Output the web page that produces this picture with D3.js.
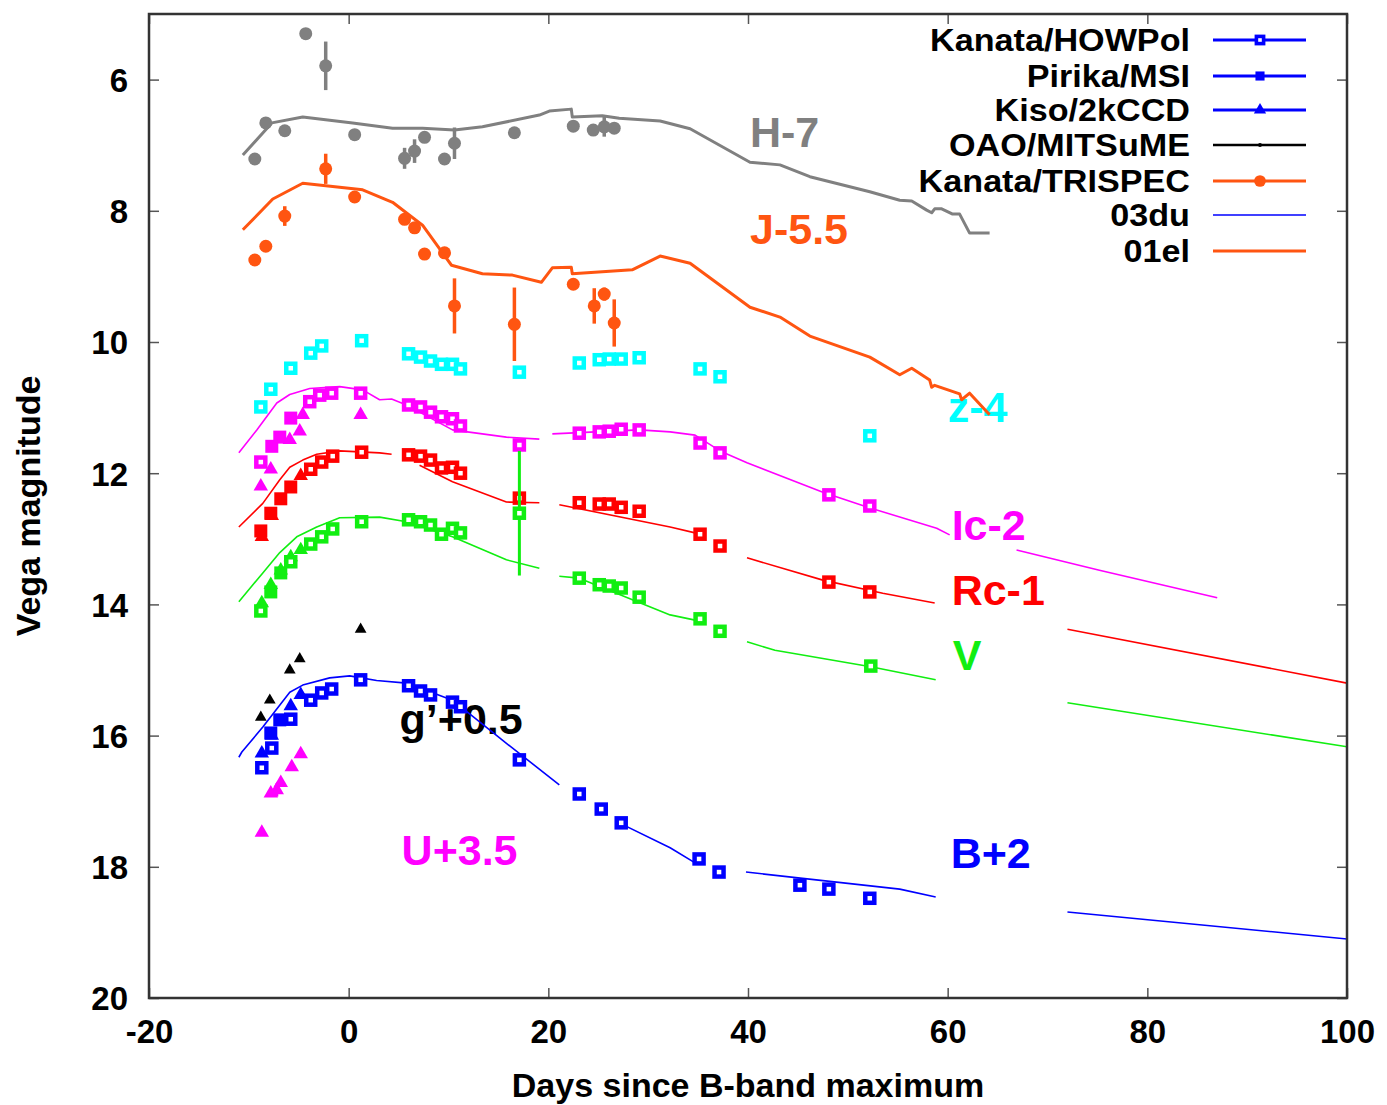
<!DOCTYPE html>
<html><head><meta charset="utf-8">
<script src="https://cdn.jsdelivr.net/npm/d3@7"></script>
<style>
body{margin:0;background:#fff}
svg text{font-family:"Liberation Sans",Arial,Helvetica,sans-serif;font-weight:bold}
</style>
</head><body>
<svg id="c" width="1387" height="1105"></svg>
<script>
// ---------- axes ----------
const xTicks = [-20, 0, 20, 40, 60, 80, 100];
const yTicks = [6, 8, 10, 12, 14, 16, 18, 20];
const xLabel = "Days since B-band maximum";
const yLabel = "Vega magnitude";

// ---------- observed points [day, mag(+offset), err] ----------
const H_trispec = [[-9.4,7.21],[-8.3,6.66],[-6.4,6.78],[-4.3,5.30],[-2.3,5.79,0.37],[0.6,6.84],[5.6,7.20,0.16],[6.6,7.09,0.18],[7.6,6.88],[9.6,7.21],[10.6,6.97,0.24],[16.6,6.81],[22.5,6.71,0.08],[24.5,6.77],[25.6,6.72,0.15],[26.6,6.74]];
const J_trispec = [[-9.4,8.75,0.09],[-8.3,8.54],[-6.4,8.08,0.15],[-2.3,7.36,0.23],[0.6,7.79],[5.6,8.13],[6.6,8.26],[7.6,8.66],[9.6,8.64],[10.6,9.45,0.42],[16.6,9.73,0.56],[22.5,9.12],[24.6,9.45,0.27],[25.6,9.27,0.10],[26.6,9.71,0.36]];
const z_howpol = [[-8.8,10.99],[-7.8,10.72],[-5.8,10.40],[-3.8,10.17],[-2.7,10.06],[1.3,9.98],[6.0,10.18],[7.2,10.23],[8.2,10.29],[9.3,10.34],[10.4,10.34],[11.2,10.41],[17.1,10.46],[23.1,10.32],[25.1,10.27],[26.1,10.26],[27.3,10.26],[29.1,10.24],[35.2,10.41],[37.2,10.53],[52.2,11.43]];
const Ic_howpol = [[-8.8,11.83],[-3.9,10.91],[-2.9,10.81],[-1.7,10.78],[1.2,10.78],[6.0,10.96],[7.2,10.99],[8.2,11.07],[9.3,11.14],[10.4,11.17],[11.2,11.28],[17.1,11.57],[23.1,11.39],[25.1,11.37],[26.1,11.36],[27.3,11.33],[29.1,11.34],[35.2,11.54],[37.2,11.69],[48.1,12.33],[52.2,12.50]];
const Ic_pirika = [[-7.7,11.59],[-6.9,11.45],[-5.8,11.16]];
const Ic_kiso = [[-8.8,12.20],[-7.8,11.94],[-5.9,11.49],[-4.9,11.36],[-4.6,11.11],[1.2,11.11]];
const Rc_howpol = [[-3.8,11.94],[-2.7,11.83],[-1.6,11.74],[1.3,11.68],[6.0,11.72],[7.2,11.74],[8.2,11.80],[9.3,11.92],[10.4,11.91],[11.2,12.00],[17.1,12.38],[23.1,12.45],[25.1,12.47],[26.1,12.47],[27.3,12.52],[29.1,12.58],[35.2,12.93],[37.2,13.11],[48.1,13.66],[52.2,13.81]];
const Rc_pirika = [[-8.8,12.88],[-7.8,12.61],[-6.8,12.39],[-5.8,12.21]];
const Rc_kiso = [[-8.7,12.97],[-7.7,12.65],[-4.8,12.04]];
const V_howpol = [[-8.8,14.10],[-5.8,13.35],[-3.8,13.08],[-2.7,12.97],[-1.6,12.85],[1.3,12.74],[6.0,12.71],[7.2,12.74],[8.2,12.79],[9.3,12.93],[10.4,12.84],[11.2,12.91],[17.1,12.61,0.95],[23.1,13.60],[25.1,13.70],[26.1,13.72],[27.3,13.75],[29.1,13.89],[35.2,14.22],[37.2,14.41],[52.3,14.94]];
const V_pirika = [[-7.8,13.81],[-6.8,13.52]];
const V_kiso = [[-8.7,13.98],[-7.8,13.70],[-6.8,13.48],[-5.8,13.28],[-4.8,13.17]];
const B_howpol = [[-8.7,16.49],[-7.7,16.19],[-5.8,15.75],[-3.8,15.46],[-2.7,15.35],[-1.7,15.29],[1.2,15.15],[6.0,15.24],[7.2,15.32],[8.2,15.38],[10.4,15.49],[11.2,15.56],[17.1,16.37],[23.1,16.89],[25.3,17.12],[27.3,17.33],[35.1,17.88],[37.1,18.08],[45.2,18.28,0.08],[48.1,18.34,0.08],[52.2,18.48]];
const B_pirika = [[-7.8,15.96],[-6.9,15.76]];
const B_kiso = [[-8.7,16.27],[-7.7,16.00],[-5.8,15.55],[-4.8,15.38]];
const g_mitsume = [[-8.8,15.72],[-7.9,15.46],[-5.9,15.00],[-4.9,14.83],[1.2,14.38]];
const U_kiso = [[-8.7,17.48],[-7.8,16.88],[-7.2,16.83,0.10],[-6.8,16.72],[-5.7,16.48],[-4.8,16.28]];

// ---------- template light curves (segments) ----------
const H_01el = [[[-10.6,7.15],[-7.7,6.66],[-4.6,6.57],[0.4,6.66],[4.4,6.74],[7.4,6.74],[10.6,6.77],[13.4,6.72],[19.1,6.54],[20.1,6.48],[22.3,6.45],[22.4,6.57],[25.4,6.55],[27.1,6.59],[31.2,6.63],[34.2,6.75],[40.2,7.26],[43.2,7.30],[46.2,7.48],[52.2,7.71],[55.2,7.84],[56.4,7.85],[57.9,7.99],[58.4,8.03],[58.7,7.97],[59.4,7.97],[60.5,8.05],[61.2,8.05],[62.2,8.34],[64.2,8.34]]];
const J_01el = [[[-10.6,8.29],[-7.6,7.82],[-4.6,7.58],[1.4,7.68],[4.4,7.87],[7.4,8.22],[10.3,8.83],[13.4,8.96],[16.4,8.98],[19.3,9.09],[20.4,8.87],[22.3,8.86],[22.4,8.96],[28.4,8.90],[31.2,8.69],[34.2,8.80],[40.2,9.47],[43.2,9.62],[46.2,9.91],[52.2,10.23],[55.2,10.50],[56.4,10.40],[58.2,10.58],[58.4,10.69],[58.7,10.66],[61.2,10.79],[61.4,10.88],[62.2,10.78],[64.2,11.11]]];
const Ic_03du = [
  [[-11.0,11.69],[-9.2,11.34],[-7.2,10.93],[-5.9,10.80],[-3.9,10.71],[-0.9,10.68],[1.4,10.73],[3.1,10.88],[4.3,10.87],[5.8,10.96],[10.4,11.34],[15.8,11.45],[19.1,11.48]],
  [[20.4,11.40],[29.1,11.34],[32.2,11.37],[34.7,11.42],[37.2,11.66],[39.9,11.84],[47.5,12.29],[52.0,12.52],[58.9,12.84],[60.2,12.94]],
  [[66.9,13.17],[75.2,13.48],[87.0,13.90]]];
const Rc_03du = [
  [[-11.0,12.82],[-8.6,12.46],[-6.9,12.10],[-5.9,11.91],[-4.6,11.80],[-3.2,11.71],[-0.9,11.66],[3.1,11.69],[4.3,11.71]],
  [[7.1,11.88],[10.4,12.13],[15.8,12.44],[19.1,12.45]],
  [[21.1,12.48],[32.2,12.82],[34.7,12.91]],
  [[39.9,13.29],[47.5,13.63],[53.5,13.83],[58.7,13.98]],
  [[72.0,14.38],[100,15.20]]];
const V_03du = [
  [[-11.0,13.96],[-8.6,13.52],[-6.9,13.21],[-5.2,12.97],[-3.2,12.82],[-0.9,12.68],[3.1,12.67],[5.8,12.74],[10.4,12.97],[15.8,13.32],[19.1,13.45]],
  [[21.1,13.57],[23.1,13.60],[32.2,14.16],[34.7,14.24]],
  [[39.9,14.57],[42.7,14.70],[52.3,14.95],[58.8,15.15]],
  [[72.0,15.50],[100,16.17]]];
const B_03du = [
  [[-11.0,16.33],[-10.7,16.25],[-8.6,15.87],[-5.9,15.34],[-4.6,15.23],[-1.9,15.12],[0.1,15.09],[2.8,15.16],[5.8,15.20],[10.4,15.46],[15.4,16.07],[21.1,16.75]],
  [[27.1,17.33],[32.2,17.71],[34.7,17.94]],
  [[39.8,18.08],[55.2,18.34],[58.8,18.46]],
  [[72.0,18.69],[100,19.10]]];

// ---------- labels ----------
const bandLabels = [
  {t:"H-7", x:40.2, y:7.03, c:"#808080"},
  {t:"J-5.5", x:40.2, y:8.50, c:"#ff5511"},
  {t:"z-4", x:60.0, y:11.22, c:"#00ffff"},
  {t:"Ic-2", x:60.4, y:13.02, c:"#ff00ff"},
  {t:"Rc-1", x:60.4, y:14.01, c:"#ff0000"},
  {t:"V", x:60.5, y:15.00, c:"#11ee11"},
  {t:"g\u2019+0.5", x:5.1, y:15.98, c:"#000000"},
  {t:"U+3.5", x:5.3, y:17.98, c:"#ff00ff"},
  {t:"B+2", x:60.3, y:18.02, c:"#0000ff"}
];
const legendNames = ["Kanata/HOWPol","Pirika/MSI","Kiso/2kCCD","OAO/MITSuME","Kanata/TRISPEC","03du","01el"];

// ---------- drawing ----------
const L=149, R=1347, T=14, B=998;
const svg = d3.select("#c");
const x = d3.scaleLinear().domain([-20,100]).range([L,R]);
const y = d3.scaleLinear().domain([5,20]).range([T,B]);
const fmt = d => String(d);

svg.append("defs").append("clipPath").attr("id","clip")
  .append("rect").attr("x",L).attr("y",T).attr("width",R-L).attr("height",B-T);

const gx = svg.append("g").attr("transform",`translate(0,${B})`)
  .call(d3.axisBottom(x).tickValues(xTicks).tickSize(-10).tickPadding(25).tickFormat(fmt));
const gxt = svg.append("g").attr("transform",`translate(0,${T})`)
  .call(d3.axisTop(x).tickValues(xTicks).tickSize(-10).tickFormat(""));
const gy = svg.append("g").attr("transform",`translate(${L},0)`)
  .call(d3.axisLeft(y).tickValues(yTicks).tickSize(-10).tickPadding(21).tickFormat(fmt));
const gyr = svg.append("g").attr("transform",`translate(${R},0)`)
  .call(d3.axisRight(y).tickValues(yTicks).tickSize(-10).tickFormat(""));
[gx,gxt,gy,gyr].forEach(g=>{
  g.select(".domain").remove();
  g.selectAll(".tick line").attr("stroke","#555").attr("stroke-width",1.5);
  g.selectAll("text").attr("font-size",33).attr("fill","#000")
   .attr("font-family",'"Liberation Sans",Arial,sans-serif').attr("font-weight","bold");
});
gx.selectAll(".tick text").attr("dy","0.62em");
gy.selectAll(".tick text").attr("dy","0.36em");

svg.append("text").attr("x",(L+R)/2).attr("y",1097).attr("text-anchor","middle")
  .attr("font-size",34).text(xLabel);
svg.append("text").attr("transform","translate(40,506) rotate(-90)").attr("text-anchor","middle")
  .attr("font-size",34).text(yLabel);

const plot = svg.append("g").attr("clip-path","url(#clip)");

bandLabels.forEach(b=>{
  plot.append("text").attr("x",x(b.x)).attr("y",y(b.y)).attr("font-size",43)
    .attr("fill",b.c).text(b.t);
});

const line = d3.line().x(d=>x(d[0])).y(d=>y(d[1]));
function drawTemplate(segs,color,w){
  segs.forEach(s=>plot.append("path").attr("d",line(s)).attr("fill","none")
    .attr("stroke",color).attr("stroke-width",w).attr("stroke-linejoin","round"));
}
drawTemplate(H_01el,"#808080",3);
drawTemplate(J_01el,"#ff5511",3);
drawTemplate(Ic_03du,"#ff00ff",1.6);
drawTemplate(Rc_03du,"#ff0000",1.6);
drawTemplate(V_03du,"#11ee11",1.6);
drawTemplate(B_03du,"#0000ff",1.6);

function marker(g,type,color,cx,cy,scale){
  const s = scale||1;
  if(type==="open"){
    g.append("rect").attr("x",cx-4.5*s).attr("y",cy-4.5*s).attr("width",9*s).attr("height",9*s)
      .attr("fill","#fff").attr("stroke",color).attr("stroke-width",4.5*s);
  } else if(type==="fsq"){
    g.append("rect").attr("x",cx-6.5*s).attr("y",cy-6.5*s).attr("width",13*s).attr("height",13*s).attr("fill",color);
  } else if(type==="tri"){
    g.append("path").attr("d",d3.symbol().type(d3.symbolTriangle).size(90*s*s)()).attr("transform",`translate(${cx},${cy})`).attr("fill",color);
  } else if(type==="stri"){
    g.append("path").attr("d",d3.symbol().type(d3.symbolTriangle).size(60*s*s)()).attr("transform",`translate(${cx},${cy})`).attr("fill",color);
  } else if(type==="circ"){
    g.append("circle").attr("cx",cx).attr("cy",cy).attr("r",6.5*s).attr("fill",color);
  } else if(type==="dot"){
    g.append("circle").attr("cx",cx).attr("cy",cy).attr("r",2).attr("fill",color);
  }
}
function drawPts(data,type,color,ew){
  data.forEach(d=>{
    if(d.length>2){
      plot.append("line").attr("x1",x(d[0])).attr("x2",x(d[0])).attr("y1",y(d[1]-d[2])).attr("y2",y(d[1]+d[2]))
        .attr("stroke",color).attr("stroke-width",ew||3);
    }
    marker(plot,type,color,x(d[0]),y(d[1]));
  });
}
drawPts(H_trispec,"circ","#808080",3.5);
drawPts(J_trispec,"circ","#ff5511",3.5);
drawPts(z_howpol,"open","#00ffff");
drawPts(Ic_pirika,"fsq","#ff00ff");
drawPts(Ic_kiso,"tri","#ff00ff");
drawPts(Ic_howpol,"open","#ff00ff");
drawPts(Rc_pirika,"fsq","#ff0000");
drawPts(Rc_kiso,"tri","#ff0000");
drawPts(Rc_howpol,"open","#ff0000");
drawPts(V_pirika,"fsq","#11ee11");
drawPts(V_kiso,"tri","#11ee11");
drawPts(V_howpol,"open","#11ee11");
drawPts(B_pirika,"fsq","#0000ff");
drawPts(B_kiso,"tri","#0000ff");
drawPts(B_howpol,"open","#0000ff");
drawPts(g_mitsume,"stri","#000000");
drawPts(U_kiso,"tri","#ff00ff");

svg.append("rect").attr("x",L).attr("y",T).attr("width",R-L).attr("height",B-T)
  .attr("fill","none").attr("stroke","#333").attr("stroke-width",2.5);

// legend
const legStyles = [
  {c:"#0000ff",m:"open",w:3,s:0.8},{c:"#0000ff",m:"fsq",w:3,s:0.7},{c:"#0000ff",m:"tri",w:3,s:0.85},
  {c:"#000000",m:"dot",w:2.5},{c:"#ff5511",m:"circ",w:3,s:0.9},{c:"#0000ff",m:null,w:1.5},{c:"#ff5511",m:null,w:3}
];
const legY = [40,76,110,145,181,215,251];
const lg = svg.append("g");
legendNames.forEach((n,i)=>{
  const st = legStyles[i], yy = legY[i];
  lg.append("text").attr("transform",`translate(1190,${yy}) scale(1.12,1)`).attr("dy","0.36em")
    .attr("text-anchor","end").attr("font-size",30.5).text(n);
  lg.append("line").attr("x1",1213).attr("x2",1306).attr("y1",yy).attr("y2",yy)
    .attr("stroke",st.c).attr("stroke-width",st.w);
  if(st.m) marker(lg,st.m,st.c,1260,yy,st.s||0.9);
});
</script>
</body></html>
